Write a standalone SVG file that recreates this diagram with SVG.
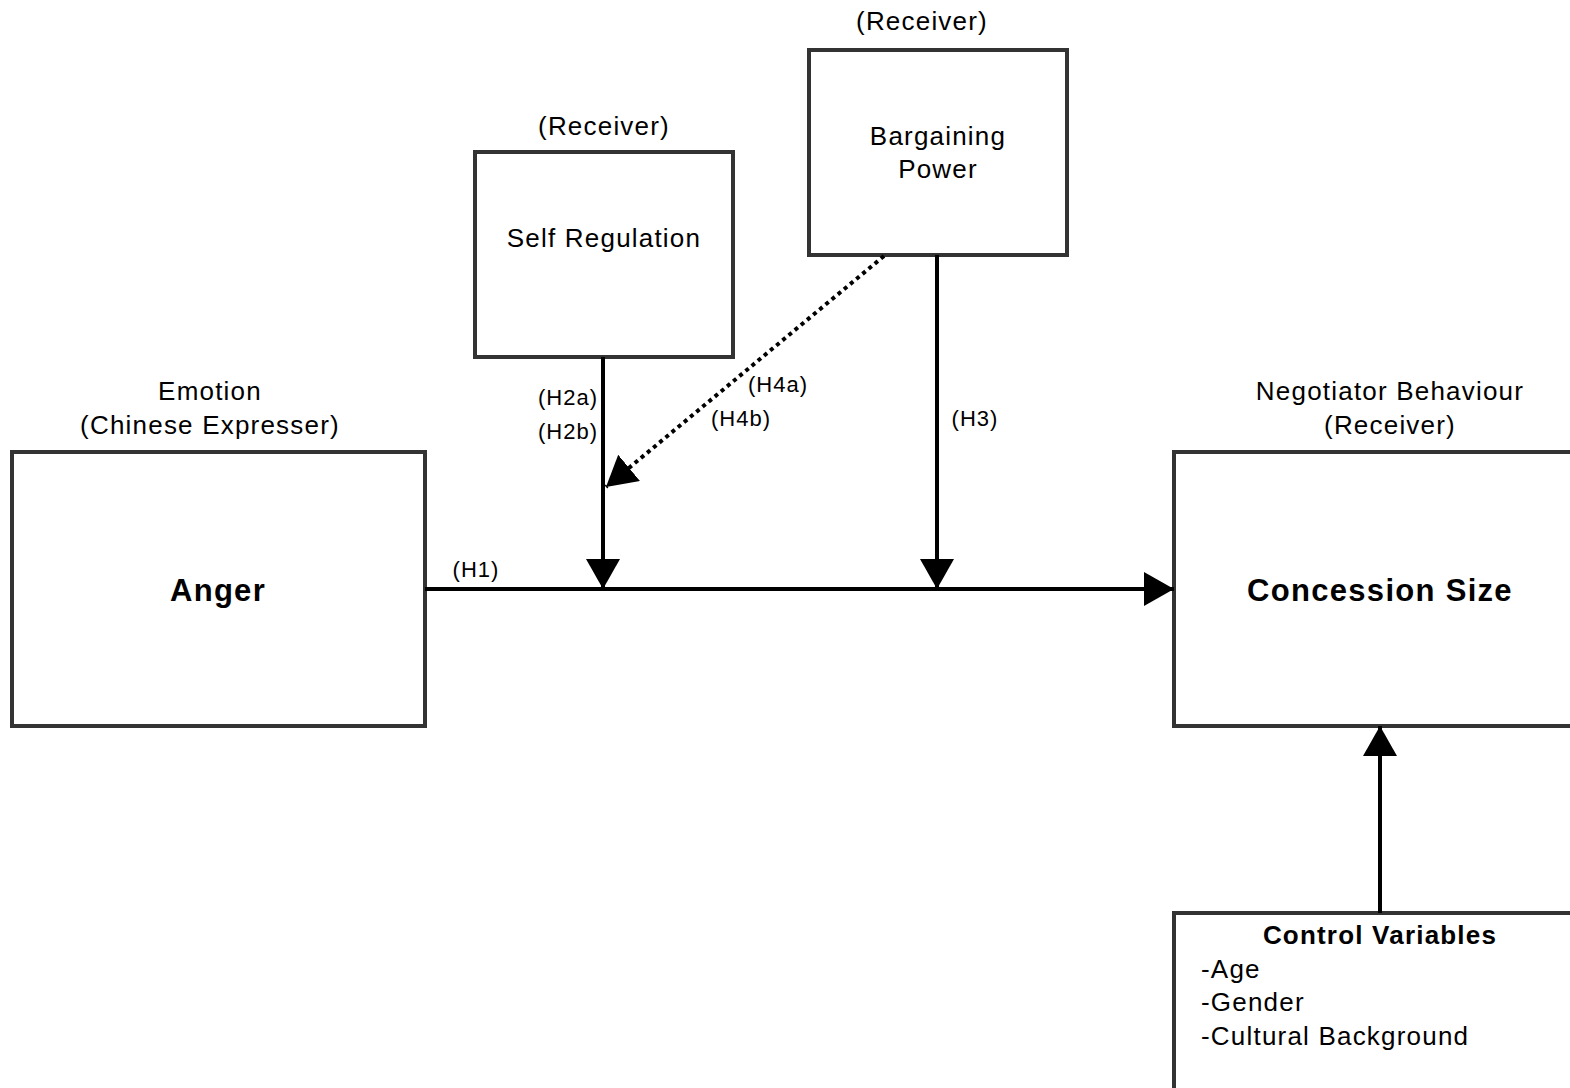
<svg xmlns="http://www.w3.org/2000/svg" width="1570" height="1088" viewBox="0 0 1570 1088">
<style>
.box{fill:#fff;stroke:#333;stroke-width:4}
.t{font-family:"Liberation Sans",Arial,sans-serif;fill:#000;text-anchor:middle}
.l{font-size:26px;letter-spacing:1.2px}
.s{font-size:22px;letter-spacing:1px}
.b{font-size:31px;font-weight:bold;letter-spacing:1.3px}
.st{text-anchor:start}
.c{stroke:#000;stroke-width:4;fill:none}
</style>
<defs>
<marker id="a" viewBox="0 0 30 34" refX="30" refY="17" markerWidth="30" markerHeight="34" markerUnits="userSpaceOnUse" orient="auto">
<path d="M0,0 L30,17 L0,34 z" fill="#000"/>
</marker>
</defs>
<rect width="1570" height="1088" fill="#fff"/>
<g id="anger">
<rect class="box" x="12" y="452" width="413" height="274"/>
<text class="t l" x="210" y="400">Emotion</text>
<text class="t l" x="210" y="434">(Chinese Expresser)</text>
<text class="t b" x="218" y="601">Anger</text>
</g>
<g id="concession">
<rect class="box" x="1174" y="452" width="410" height="274"/>
<text class="t l" x="1390" y="400">Negotiator Behaviour</text>
<text class="t l" x="1390" y="434">(Receiver)</text>
<text class="t b" x="1380" y="601">Concession Size</text>
</g>
<g id="selfreg">
<rect class="box" x="475" y="152" width="258" height="205"/>
<text class="t l" x="604" y="135">(Receiver)</text>
<text class="t l" x="604" y="247">Self Regulation</text>
</g>
<g id="bargaining">
<rect class="box" x="809" y="50" width="258" height="205"/>
<text class="t l" x="922" y="30">(Receiver)</text>
<text class="t l" x="938" y="145">Bargaining</text>
<text class="t l" x="938" y="178">Power</text>
</g>
<g id="control">
<rect class="box" x="1174" y="913" width="410" height="190"/>
<text class="t l" x="1380" y="944" style="font-weight:bold">Control Variables</text>
<text class="t l st" x="1201" y="978">-Age</text>
<text class="t l st" x="1201" y="1011">-Gender</text>
<text class="t l st" x="1201" y="1045">-Cultural Background</text>
</g>
<g id="connectors">
<line class="c" x1="425" y1="589" x2="1174" y2="589" marker-end="url(#a)"/>
<line class="c" x1="603" y1="357" x2="603" y2="589" marker-end="url(#a)"/>
<line class="c" x1="937" y1="255" x2="937" y2="589" marker-end="url(#a)"/>
<line class="c" x1="1380" y1="913" x2="1380" y2="726" marker-end="url(#a)"/>
<line x1="884" y1="256" x2="606" y2="487" stroke="#000" stroke-width="4" stroke-dasharray="4 4" marker-end="url(#a)"/>
<text class="t s" x="476" y="577">(H1)</text>
<text class="t s" x="568" y="405">(H2a)</text>
<text class="t s" x="568" y="439">(H2b)</text>
<text class="t s" x="778" y="392">(H4a)</text>
<text class="t s" x="741" y="426">(H4b)</text>
<text class="t s" x="975" y="426">(H3)</text>
</g>
</svg>
